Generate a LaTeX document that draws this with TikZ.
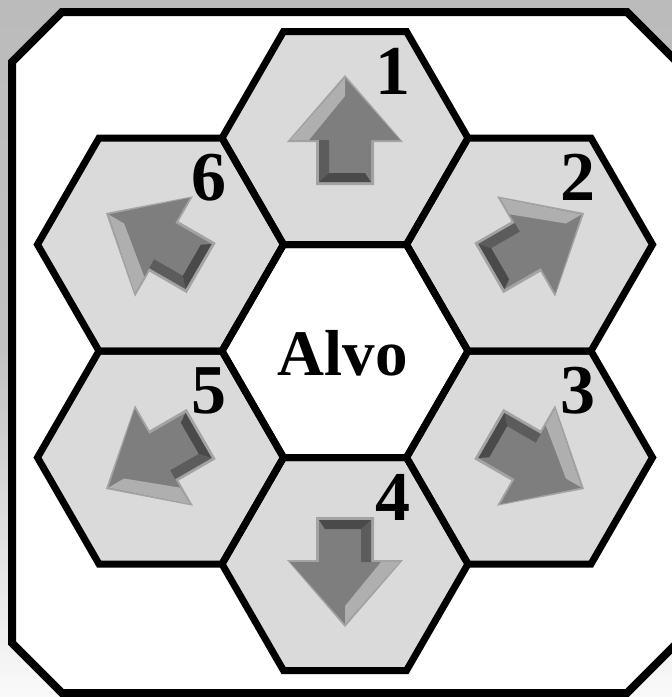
\documentclass[tikz,border=0pt]{standalone}
\usepackage{fontspec}
\setmainfont{Liberation Serif}
\definecolor{bgtop}{HTML}{BBBBBB}
\definecolor{bgbot}{HTML}{FAFAFA}
\definecolor{hexgray}{HTML}{DADADA}
\definecolor{arrowmid}{HTML}{7E7E7E}
\definecolor{arrowlight}{HTML}{AFAFAF}
\definecolor{arrowdark}{HTML}{5C5C5C}
\begin{document}
\begin{tikzpicture}[x=1pt,y=-1pt,
  hexline/.style={draw=black,line width=7pt},
  frameline/.style={draw=black,line width=8pt},
  numlabel/.style={font=\bfseries\fontsize{70}{70}\selectfont,inner sep=0pt},
  alvolabel/.style={font=\bfseries\fontsize{65}{65}\selectfont,inner sep=0pt}]
\useasboundingbox (0,0) rectangle (672,697);
% background (scanned page)
\shade[top color=bgtop,bottom color=bgbot,middle color=bgtop!90!bgbot] (0,0) rectangle (672,697);
% outer frame
\draw[frameline,fill=white] (62,12) -- (627,12) -- (677,62) -- (677,643) -- (627,693)
  -- (62,693) -- (12,643) -- (12,62) -- cycle;
% hexagon fills
\foreach \cx/\cy/\f in {345/351/white,345/138/hexgray,529.5/244.5/hexgray,529.5/457.5/hexgray,
                        345/564/hexgray,160.5/457.5/hexgray,160.5/244.5/hexgray}
  \fill[\f] (\cx+123,\cy) -- (\cx+61.5,\cy-106.5) -- (\cx-61.5,\cy-106.5) -- (\cx-123,\cy)
    -- (\cx-61.5,\cy+106.5) -- (\cx+61.5,\cy+106.5) -- cycle;
% arrows
\foreach \cx/\cy/\r in {345/138/0,529.5/244.5/-60,529.5/457.5/-120,345/564/180,
                        160.5/457.5/120,160.5/244.5/60}{
  \begin{scope}[shift={(\cx,\cy)},rotate=\r,shift={(0,-8)}]
    \fill[arrowmid!60!hexgray] (0,-55) -- (58,12) -- (29,12) -- (29,55) -- (-29,55) -- (-29,12) -- (-58,12) -- cycle;
    \fill[arrowmid] (0,-52) -- (55,10) -- (26,10) -- (26,52) -- (-26,52) -- (-26,10) -- (-55,10) -- cycle;
    \fill[arrowlight] (0,-52) -- (-55,10) -- (-36,10) -- (0,-34) -- cycle;
    \fill[arrowdark] (-26,10) -- (-26,52) -- (-16,43) -- (-16,10) -- cycle;
    \fill[arrowdark!80!black] (-26,52) -- (26,52) -- (20,43) -- (-16,43) -- cycle;
  \end{scope}}
% hexagon outlines
\foreach \cx/\cy in {345/351,345/138,529.5/244.5,529.5/457.5,345/564,160.5/457.5,160.5/244.5}
  \draw[hexline] (\cx+123,\cy) -- (\cx+61.5,\cy-106.5) -- (\cx-61.5,\cy-106.5) -- (\cx-123,\cy)
    -- (\cx-61.5,\cy+106.5) -- (\cx+61.5,\cy+106.5) -- cycle;
% numbers
\foreach \k/\cx/\cy in {1/345/138,2/529.5/244.5,3/529.5/457.5,4/345/564,5/160.5/457.5,6/160.5/244.5}
  \node[numlabel] (n\k) at (\cx+48,\cy-67) {\k};
% centre label
\node[alvolabel,anchor=base] (alvo) at (342.5,375) {Alvo};
\end{tikzpicture}
\end{document}
